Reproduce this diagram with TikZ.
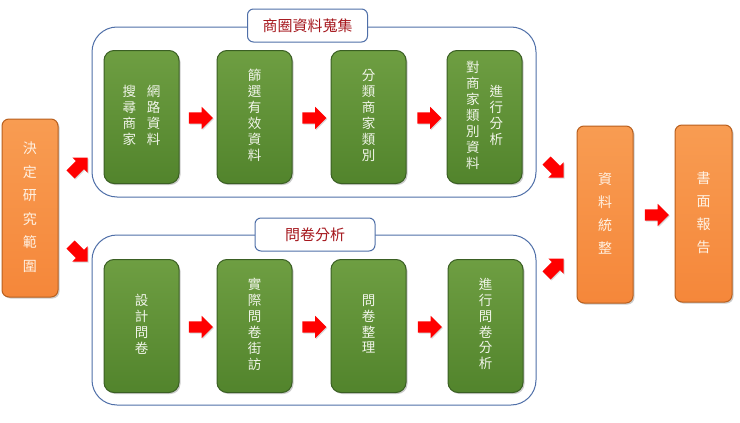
\documentclass[tikz,border=0pt]{standalone}
\usepackage{fontspec}
\setmainfont{Noto Sans CJK TC}
\usetikzlibrary{shapes.arrows,shadows,calc}
\definecolor{gtop}{HTML}{6E9E42}
\definecolor{gbot}{HTML}{52842C}
\definecolor{gline}{HTML}{3A5F23}
\definecolor{otop}{HTML}{F89C52}
\definecolor{obot}{HTML}{F5873A}
\definecolor{oline}{HTML}{B9601F}
\definecolor{grpline}{HTML}{4F6FA8}
\definecolor{ttl}{HTML}{A5161C}
\definecolor{gtext}{HTML}{F1F5EA}
\definecolor{otext}{HTML}{FFF1E2}
\newcommand{\vstk}[3]{{\fontsize{#1}{#2}\selectfont\begin{tabular}[c]{@{}c@{}}#3\end{tabular}}}
\newcommand{\vtwo}[3]{{\fontsize{#1}{#2}\selectfont\begin{tabular}[c]{@{}c@{\hspace{11pt}}c@{}}#3\end{tabular}}}
\begin{document}
\begin{tikzpicture}[x=1pt,y=-1pt,
  greenbox/.style={rounded corners=10pt, minimum width=75pt, minimum height=133pt,
    top color=gtop, bottom color=gbot, draw=gline, line width=1pt, text=gtext,
    inner sep=0pt, drop shadow={opacity=0.4, shadow xshift=1.5pt, shadow yshift=-1.5pt}},
  orangebox/.style={rounded corners=7pt, minimum width=56pt, minimum height=177pt,
    top color=otop, bottom color=obot, draw=oline, line width=1pt, text=otext,
    inner sep=0pt, drop shadow={opacity=0.4, shadow xshift=1.5pt, shadow yshift=-1.5pt}},
  groupbox/.style={rounded corners=25pt, minimum width=444pt, minimum height=170pt,
    draw=grpline, line width=1pt, fill=white},
  titlebox/.style={rounded corners=6pt, minimum width=120pt, minimum height=33pt,
    draw=grpline, line width=1pt, fill=white, text=ttl, font=\fontsize{15}{18}\selectfont},
  bigarrow/.style={single arrow, fill=red, draw=none, inner sep=5.5pt,
    minimum height=24pt, minimum width=22pt, single arrow head extend=5.5pt,
    drop shadow={opacity=0.3, shadow xshift=1pt, shadow yshift=-1pt}},
  diagarrow/.style={single arrow, fill=red, draw=none, inner sep=5.5pt,
    minimum height=24pt, minimum width=21pt, single arrow head extend=5pt,
    drop shadow={opacity=0.3, shadow xshift=1pt, shadow yshift=-1pt}}
]
\useasboundingbox[fill=white] (0,0) rectangle (740,423);

% groups
\node[groupbox] (G1) at (314,112) {};
\node[groupbox] (G2) at (314,320) {};
\node[titlebox] (T1) at (307.5,25.5) {商圈資料蒐集};
\node[titlebox] (T2) at (315,234.5) {問卷分析};

% top green boxes
\node[greenbox] (a1) at (141.5,117) {\vtwo{13.5}{15.5}{搜&網\\尋&路\\商&資\\家&料}};
\node[greenbox] (a2) at (254.5,117) {\vstk{13.5}{15.5}{篩\\選\\有\\效\\資\\料}};
\node[greenbox] (a3) at (368.5,117) {\vstk{13.5}{15.5}{分\\類\\商\\家\\類\\別}};
\node[greenbox] (a4) at (484.5,117) {\vstk{13.5}{15.5}{對\\商\\家\\類\\別\\資\\料}\hspace{10pt}\vstk{13.5}{15}{進\\行\\分\\析}};

% bottom green boxes
\node[greenbox] (b1) at (141.5,326) {\vstk{13.5}{15.5}{設\\計\\問\\卷}};
\node[greenbox] (b2) at (254.5,326) {\vstk{13.5}{15.5}{實\\際\\問\\卷\\街\\訪}};
\node[greenbox] (b3) at (368.5,326) {\vstk{13.5}{15.5}{問\\卷\\整\\理}};
\node[greenbox] (b4) at (485.5,326) {\vstk{13.5}{15.5}{進\\行\\問\\卷\\分\\析}};

% orange boxes
\node[orangebox, minimum height=178pt] (s) at (30,208) {\vstk{14}{23.5}{決\\定\\研\\究\\範\\圍}};
\node[orangebox] (m) at (605,214.5) {\vstk{14}{23}{資\\料\\統\\整}};
\node[orangebox, minimum width=57pt] (r) at (703.5,213.5) {\vstk{14}{23}{書\\面\\報\\告}};

% arrows between green boxes
\node[bigarrow] (ar1) at ($(a1.east)!0.5!(a2.west)+(0,1)$) {};
\node[bigarrow] (ar2) at ($(a2.east)!0.5!(a3.west)+(0,1)$) {};
\node[bigarrow] (ar3) at ($(a3.east)!0.5!(a4.west)+(0,1)$) {};
\node[bigarrow] (br1) at ($(b1.east)!0.5!(b2.west)+(0,1)$) {};
\node[bigarrow] (br2) at ($(b2.east)!0.5!(b3.west)+(0,1)$) {};
\node[bigarrow] (br3) at ($(b3.east)!0.5!(b4.west)+(0,1)$) {};
\node[bigarrow] (mr) at ($(m.east)!0.5!(r.west)+(0,1)$) {};

% diagonal arrows
\node[diagarrow, rotate=45] (d1) at (77,168) {};
\node[diagarrow, rotate=-45] (d2) at (77,251) {};
\node[diagarrow, rotate=-45] (d3) at (553,167) {};
\node[diagarrow, rotate=45] (d4) at (553,269) {};
\end{tikzpicture}
\end{document}
